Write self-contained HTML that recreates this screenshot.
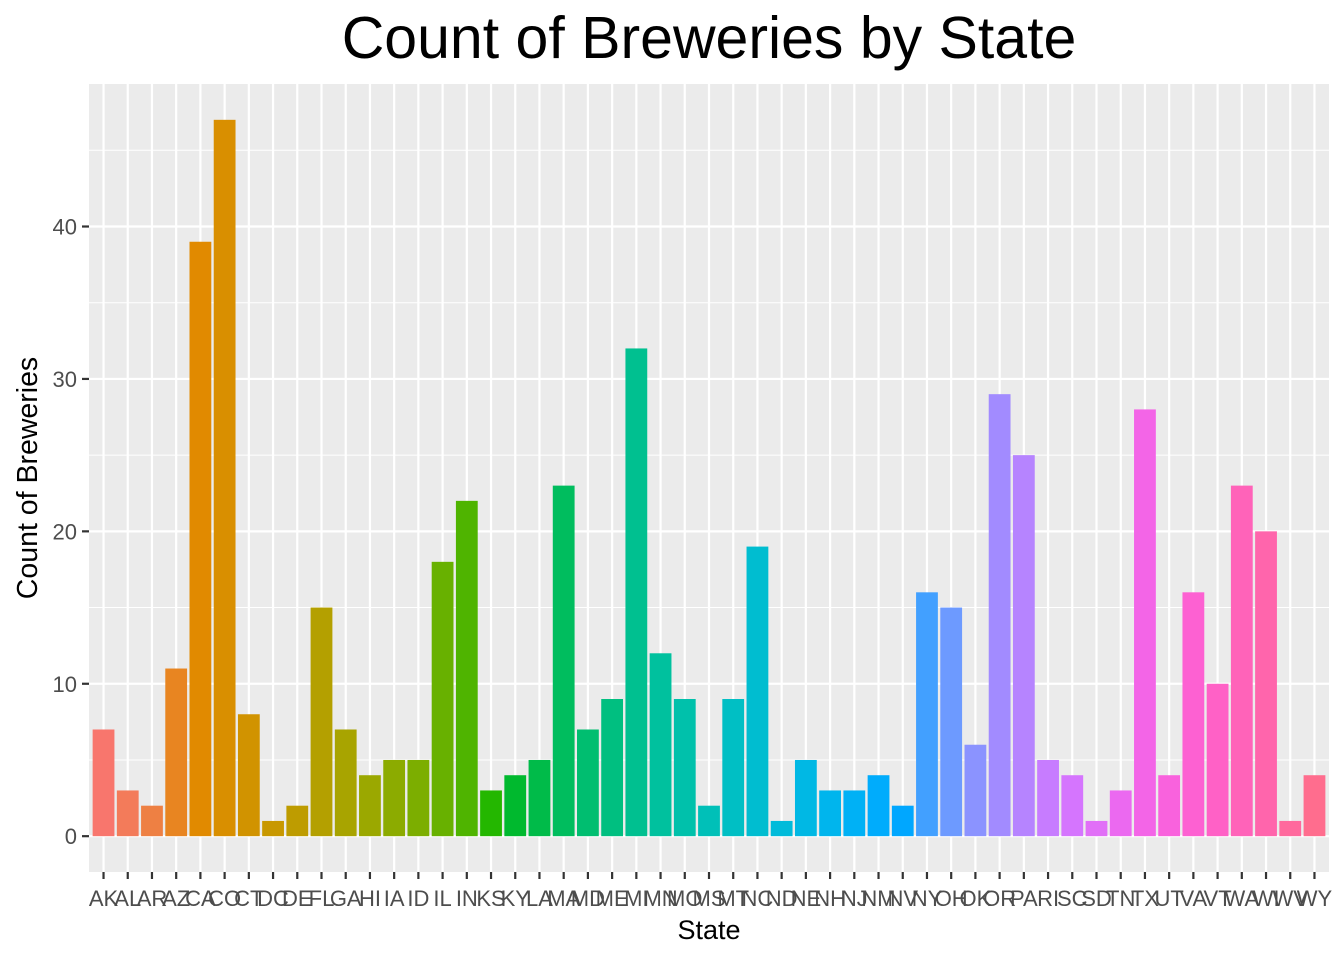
<!DOCTYPE html>
<html><head><meta charset="utf-8"><style>
html,body{margin:0;padding:0;background:#fff;}
svg{display:block;font-family:"Liberation Sans",Arial,sans-serif;}
</style></head><body>
<svg id="chart" width="1344" height="960" xmlns="http://www.w3.org/2000/svg">
<text x="709" y="58" text-anchor="middle" font-size="59" fill="#000">Count of Breweries by State</text>
<text x="709" y="939" text-anchor="middle" font-size="27" fill="#000">State</text>
<text transform="translate(37,478) rotate(-90)" text-anchor="middle" font-size="28.5" fill="#000">Count of Breweries</text>
<g id="panel"></g>
</svg>
<script>
const categories=["AK","AL","AR","AZ","CA","CO","CT","DC","DE","FL","GA","HI","IA","ID","IL","IN","KS","KY","LA","MA","MD","ME","MI","MN","MO","MS","MT","NC","ND","NE","NH","NJ","NM","NV","NY","OH","OK","OR","PA","RI","SC","SD","TN","TX","UT","VA","VT","WA","WI","WV","WY"];
const counts=[7,3,2,11,39,47,8,1,2,15,7,4,5,5,18,22,3,4,5,23,7,9,32,12,9,2,9,19,1,5,3,3,4,2,16,15,6,29,25,5,4,1,3,28,4,16,10,23,20,1,4];
const yTicks=[0,10,20,30,40];

const NS="http://www.w3.org/2000/svg";
const g=document.getElementById('panel');
const n=categories.length;
const maxV=Math.max(...counts);
const yMin=-0.05*maxV, yMax=maxV*1.05;
const PL=89, PR=1329, PT=84, PB=872;
const xStep=(PR-PL)/(n+0.2);
const x=i=>PL+(i+0.6)*xStep;
const y=v=>PB-(v-yMin)/(yMax-yMin)*(PB-PT);
function mk(tag,attrs){const e=document.createElementNS(NS,tag);for(const k in attrs)e.setAttribute(k,attrs[k]);g.appendChild(e);return e;}
function hcl(h){const L=65,C=100;const hr=h*Math.PI/180;const u=C*Math.cos(hr),v=C*Math.sin(hr);
const Un=0.1978398,Vn=0.4683363;const Y=Math.pow((L+16)/116,3);const up=u/(13*L)+Un,vp=v/(13*L)+Vn;
const X=Y*9*up/(4*vp),Z=Y*(12-3*up-20*vp)/(4*vp);
let r=3.2404542*X-1.5371385*Y-0.4985314*Z,gg=-0.9692660*X+1.8760108*Y+0.0415560*Z,b=0.0556434*X-0.2040259*Y+1.0572252*Z;
const gm=c=>{c=c<=0.0031308?12.92*c:1.055*Math.pow(c,1/2.4)-0.055;return Math.round(Math.max(0,Math.min(1,c))*255);};
return `rgb(${gm(r)},${gm(gg)},${gm(b)})`;}
let e=mk('rect',{x:PL,y:PT,width:PR-PL,height:PB-PT,fill:'#EBEBEB'});


for(let k=0;k<yTicks.length;k++){const m=yTicks[k]+5;if(y(m)>PT){e=mk('line',{x1:PL,x2:PR,y1:y(m),y2:y(m),stroke:'#fff','stroke-width':1});

}}
yTicks.forEach(t=>{e=mk('line',{x1:PL,x2:PR,y1:y(t),y2:y(t),stroke:'#fff','stroke-width':2.2});


e=mk('line',{x1:PL-7,x2:PL,y1:y(t),y2:y(t),stroke:'#333','stroke-width':2.2});


e=mk('text',{x:PL-12,y:y(t)+8,'text-anchor':'end','font-size':22,fill:'#4D4D4D'});e.textContent=t;

});
categories.forEach((c,i)=>{e=mk('line',{x1:x(i),x2:x(i),y1:PT,y2:PB,stroke:'#fff','stroke-width':2.2});

});
categories.forEach((c,i)=>{const w=0.9*xStep;const col=hcl(15+360*i/(n+1));
e=mk('rect',{x:x(i)-w/2,y:y(counts[i]),width:w,height:y(0)-y(counts[i]),fill:col});


e=mk('line',{x1:x(i),x2:x(i),y1:PB,y2:PB+7,stroke:'#333','stroke-width':2.2});


e=mk('text',{x:x(i),y:906,'text-anchor':'middle','font-size':22,fill:'#4D4D4D'});e.textContent=c;

});
</script>
</body></html>
